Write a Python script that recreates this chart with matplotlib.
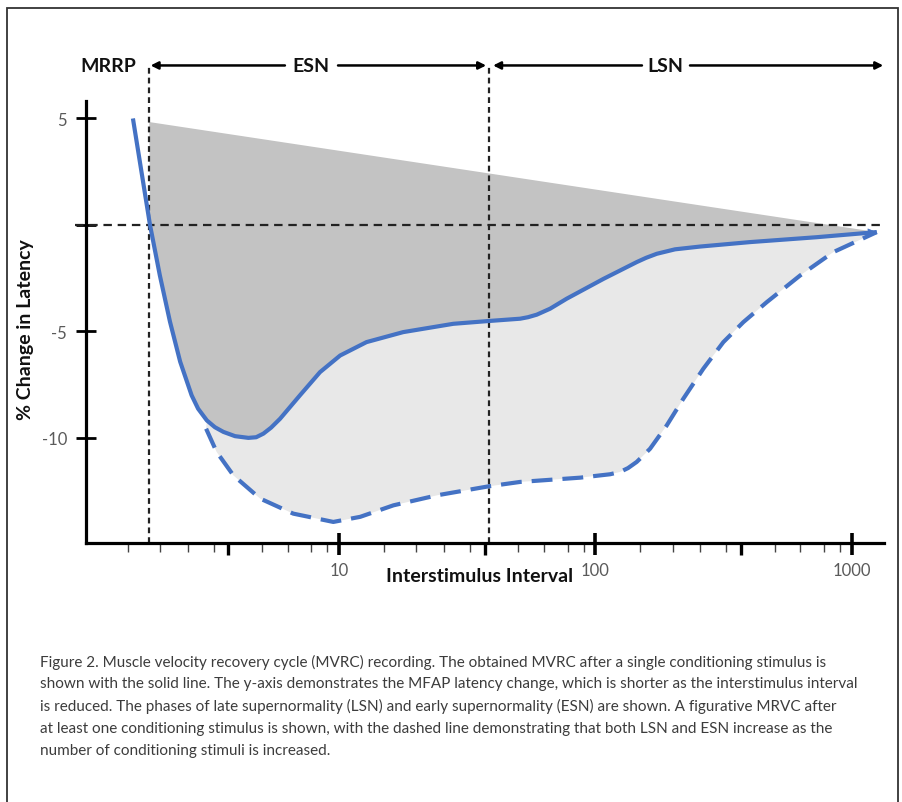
import numpy as np
import matplotlib
matplotlib.use("Agg")
import matplotlib.pyplot as plt
from matplotlib.patches import Rectangle
import matplotlib.transforms as mtransforms

# ---------------- data ----------------
solid_x = [1.57, 1.83, 2.00, 2.19, 2.40, 2.66, 2.82, 3.05, 3.28, 3.54, 3.93,
           4.43, 4.75, 5.07, 5.43, 5.89, 7.04, 8.43, 10.1, 12.8, 17.8, 27.9,
           38.2, 50.9, 54.6, 59.1, 66.6, 77.3, 107.5, 145.0, 157.7, 173.6,
           204.6, 256.1, 401.5, 730.9, 1253.0]
solid_y = [5.0, 0.0, -2.38, -4.55, -6.43, -8.01, -8.64, -9.19, -9.51, -9.73,
           -9.93, -10.01, -9.98, -9.81, -9.53, -9.11, -8.01, -6.92, -6.14,
           -5.51, -5.04, -4.65, -4.52, -4.41, -4.34, -4.22, -3.94, -3.47,
           -2.54, -1.75, -1.55, -1.36, -1.15, -1.02, -0.81, -0.58, -0.34]

dashed_x = [3.03, 3.33, 3.87, 4.92, 6.63, 9.50, 12.1, 16.3, 24.1, 38.2, 50.9,
            87.2, 114.1, 124.9, 134.1, 145.0, 153.5, 163.5, 190.0, 220.4,
            263.8, 315.8, 378.0, 466.6, 629.1, 848.4, 1253.0]
dashed_y = [-9.58, -10.67, -11.77, -12.86, -13.57, -13.96, -13.72, -13.18,
            -12.71, -12.29, -12.08, -11.88, -11.72, -11.61, -11.43, -11.14,
            -10.85, -10.52, -9.42, -8.17, -6.76, -5.51, -4.57, -3.63, -2.38,
            -1.28, -0.34]

envelope_x = [1.82, 1253.0]
envelope_y = [4.83, -0.34]

mrrp_x = 1.82
esn_lsn_x = 38.3
baseline_y = 0

y_ticks = [5, 0, -5, -10]
y_tick_labels = ["5", "", "-5", "-10"]
x_major = [10, 100, 1000]
x_major_labels = ["10", "100", "1000"]
decades = [1, 10, 100]
minor_mult = [1.5, 2.0, 2.57, 3.24, 5.0, 6.3, 7.8, 9.0]
mid_mult = 3.7

caption_lines = [
    "Figure 2. Muscle velocity recovery cycle (MVRC) recording. The obtained MVRC after a single conditioning stimulus is",
    "shown with the solid line. The y-axis demonstrates the MFAP latency change, which is shorter as the interstimulus interval",
    "is reduced. The phases of late supernormality (LSN) and early supernormality (ESN) are shown. A figurative MRVC after",
    "at least one conditioning stimulus is shown, with the dashed line demonstrating that both LSN and ESN increase as the",
    "number of conditioning stimuli is increased.",
]

# ---------------- styling ----------------
BLUE = "#4472c4"
DARK_GRAY = "#c3c3c3"
LIGHT_GRAY = "#e8e8e8"
TICK_GRAY = "#5a5a5a"
FONT = ["Lato", "DejaVu Sans"]
W, H = 902, 803
AX_H = 544 - 102

fig = plt.figure(figsize=(W / 100, H / 100), dpi=100)
fig.patch.set_facecolor("white")

ax = fig.add_axes([86 / W, 1 - 544 / H, (884 - 86) / W, AX_H / H])
ax.set_xscale("log")
ax.set_xlim(1.03, 1337)
ax.set_ylim(-14.95, 5.82)

# dark gray region: between the straight envelope and the solid curve
sx = np.array(solid_x)
sy = np.array(solid_y)
keep = sx >= mrrp_x
dark_x = list(envelope_x) + list(sx[keep][::-1])
dark_y = list(envelope_y) + list(sy[keep][::-1])
ax.fill(dark_x, dark_y, color=DARK_GRAY, lw=0, zorder=1)

# light gray region: between solid and dashed curves
keep2 = sx >= dashed_x[0]
light_x = [dashed_x[0]] + list(sx[keep2]) + list(dashed_x[::-1])
light_y = [dashed_y[0]] + list(sy[keep2]) + list(dashed_y[::-1])
ax.fill(light_x, light_y, color=LIGHT_GRAY, lw=0, zorder=1)

# reference dashed lines
ax.axhline(baseline_y, xmin=-0.014, xmax=0.995, color="#222222", lw=1.6,
           dashes=(3.8, 2.6), zorder=3, clip_on=False)
top_row_y = 7.49
for vx in (mrrp_x, esn_lsn_x):
    ax.plot([vx, vx], [-14.95, top_row_y], color="#222222", lw=1.6,
            dashes=(2.6, 1.8), zorder=3, clip_on=False)

# curves
ax.plot(solid_x, solid_y, color=BLUE, lw=3.0, solid_capstyle="butt",
        solid_joinstyle="round", zorder=4)
ax.plot(dashed_x, dashed_y, color=BLUE, lw=3.0, dashes=(5.0, 2.4),
        dash_joinstyle="round", zorder=4)
ax.annotate("", xy=(solid_x[-1], solid_y[-1]), xytext=(solid_x[-2], solid_y[-2]),
            arrowprops=dict(arrowstyle="-|>", color=BLUE, lw=0.5,
                            mutation_scale=14, shrinkA=0, shrinkB=0),
            zorder=4, annotation_clip=False)

# axes styling
for s in ("top", "right"):
    ax.spines[s].set_visible(False)
for s in ("left", "bottom"):
    ax.spines[s].set_linewidth(2.3)
    ax.spines[s].set_color("black")
    ax.spines[s].set_zorder(5)

ax.set_yticks(y_ticks)
ax.set_yticklabels(y_tick_labels)
ax.tick_params(axis="y", direction="inout", length=14.5, width=2.0,
               pad=6.5, labelsize=12, labelcolor=TICK_GRAY)

ax.set_xticks(x_major)
ax.set_xticklabels(x_major_labels)
minor_ticks = [d * m for d in decades for m in minor_mult]
ax.set_xticks(minor_ticks, minor=True)
ax.xaxis.set_minor_formatter(matplotlib.ticker.NullFormatter())
ax.tick_params(axis="x", which="major", direction="out", length=0,
               width=0, pad=14.0, labelsize=12, labelcolor=TICK_GRAY)
ax.tick_params(axis="x", which="minor", direction="out", length=6.5,
               width=1.0, color="#444444")

# bold tick marks drawn as short segments on the bottom axis
blend = mtransforms.blended_transform_factory(ax.transData, ax.transAxes)
ax.vlines(x_major, -12 / AX_H, 10 / AX_H, transform=blend,
          color="black", lw=2.6, clip_on=False, zorder=6)
ax.vlines([d * mid_mult for d in decades], -12 / AX_H, 0, transform=blend,
          color="black", lw=2.4, clip_on=False, zorder=6)

for lab in ax.get_xticklabels() + ax.get_yticklabels():
    lab.set_fontfamily(FONT)

# axis titles
fig.text(26 / W, 1 - 330 / H, "% Change in Latency", rotation=90,
         ha="center", va="center", fontsize=14, fontweight="bold",
         family=FONT, color="#111111")
fig.text(480 / W, 1 - 577 / H, "Interstimulus Interval", ha="center",
         va="center", fontsize=14, fontweight="bold", family=FONT,
         color="#111111")

# top phase arrows and labels
lab_kw = dict(ha="center", va="center", fontsize=14, fontweight="bold",
              family=FONT, color="#111111", annotation_clip=False)
ax.annotate("MRRP", xy=(1.255, top_row_y), **lab_kw)
ax.annotate("ESN", xy=(7.78, top_row_y), **lab_kw)
ax.annotate("LSN", xy=(187.5, top_row_y), **lab_kw)

arr_kw = dict(arrowstyle="-|>", color="black", lw=1.8, mutation_scale=11,
              shrinkA=0, shrinkB=0)
arrows = [(6.15, 1.84), (9.91, 37.5), (152.0, 39.9), (234.0, 1328.0)]
for x0, x1 in arrows:
    ax.annotate("", xy=(x1, top_row_y), xytext=(x0, top_row_y),
                arrowprops=arr_kw, annotation_clip=False)

# caption
for i, line in enumerate(caption_lines):
    fig.text(40 / W, 1 - (662 + 22.2 * i) / H, line, ha="left", va="center",
             fontsize=11.0, family=FONT, color="#3c3c3c")

# outer frame
fig.patches.append(Rectangle((7 / W, -0.02), (898 - 7) / W, 1 - 9 / H + 0.02,
                             transform=fig.transFigure, fill=False,
                             edgecolor="#333333", lw=1.3))

fig.savefig("out.png", dpi=100, facecolor="white")
